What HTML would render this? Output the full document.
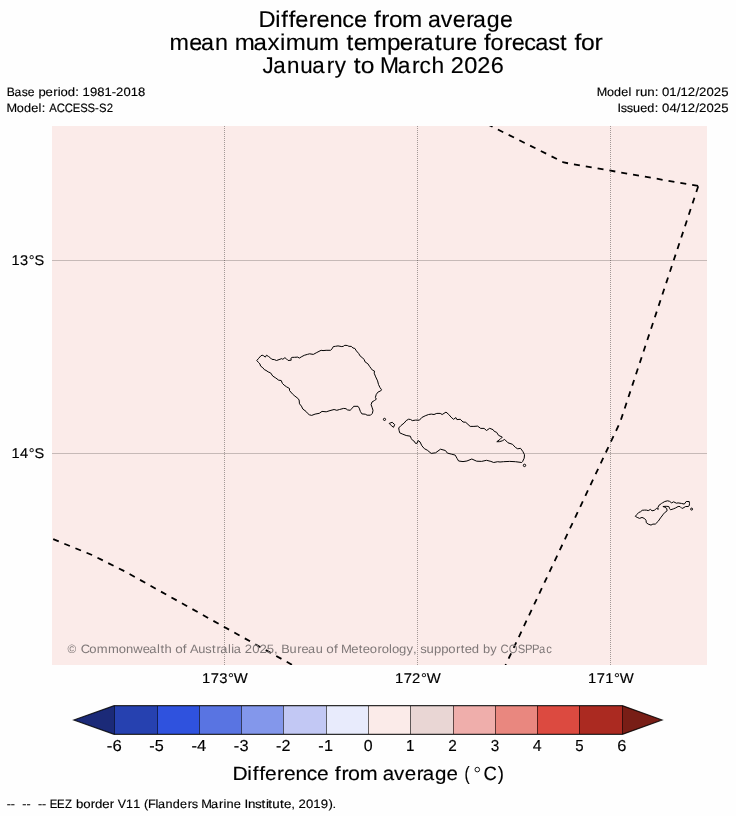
<!DOCTYPE html>
<html><head><meta charset="utf-8">
<style>
html,body{margin:0;padding:0;background:#fefefe;width:736px;height:816px;overflow:hidden}
svg{display:block;will-change:transform}
text{font-family:"Liberation Sans",sans-serif;fill:#000;stroke:#000;stroke-width:0.15px;text-rendering:geometricPrecision}
text.g{fill:#7f7878;stroke:none}
</style></head>
<body>
<svg width="736" height="816" viewBox="0 0 736 816">
<rect x="0" y="0" width="736" height="816" fill="#fefefe"/>
<!-- map -->
<rect x="52" y="126" width="655" height="539" fill="#fbebe9"/>
<g shape-rendering="crispEdges">
<line x1="52" y1="260.5" x2="707" y2="260.5" stroke="#000" stroke-opacity="0.21" stroke-width="1"/>
<line x1="52" y1="453.5" x2="707" y2="453.5" stroke="#000" stroke-opacity="0.21" stroke-width="1"/>
<line x1="224.5" y1="126" x2="224.5" y2="665" stroke="#000" stroke-opacity="0.35" stroke-width="1" stroke-dasharray="1 1"/>
<line x1="417.5" y1="126" x2="417.5" y2="665" stroke="#000" stroke-opacity="0.35" stroke-width="1" stroke-dasharray="1 1"/>
<line x1="610.5" y1="126" x2="610.5" y2="665" stroke="#000" stroke-opacity="0.35" stroke-width="1" stroke-dasharray="1 1"/>
</g>
<!-- islands -->
<g fill="none" stroke="#000" stroke-width="1" stroke-linejoin="round">
<path id="savaii" d="M256.8,360.5 L258.7,358.3 260.9,355.8 262.1,355.2 263.7,355.8 265.3,357.1 266.5,355.2 268.4,356.4 270.6,358 271.8,359.3 274.3,359.6 276.5,360.5 279,359.6 281.8,358.6 282.8,359.3 284.9,357.7 286.5,358.9 288.1,360.5 291.2,360.2 290.9,358.3 292.1,357.4 294.6,357.3 297.8,357.1 299.3,358.1 301.8,356.6 304.3,355.3 307.4,354.4 309.6,353.8 313.3,354.4 316.8,352.5 321.1,350.3 323,350.6 326.1,350.3 330.5,350.3 332.1,348.8 333.3,346.6 335.5,346.3 338,345.9 341.8,346.6 343.3,346.3 344.8,345.3 347.3,345.5 348.9,346.3 351.4,346.4 352.9,348 354.8,348.4 356.4,350.9 358.6,353.4 360.4,356.3 362.6,357.8 364.2,359.7 365.1,361.9 367.9,363.8 369.5,366.3 371.4,368.8 372.4,370.1 374.5,371.1 374.2,373.2 375.7,376.9 377.6,380.9 378.5,384.5 380,387.6 381.5,389.7 380.6,391 378.2,391.9 376.3,394.3 375.4,397.4 376.3,399.2 374.5,400.5 372,402 371.1,404.7 372,407.2 373,410.3 372.4,413.3 370.5,415.2 367.1,415.2 365.3,414.2 361.9,413.9 360.4,411.5 359.2,408.1 358,406.3 353.7,406.3 351.8,408.7 350.1,410.3 347.5,409.9 346,408.7 343.7,408.4 339.5,409.5 336.8,410.3 334.1,409.5 330,410.6 326.2,411.8 322,411.4 319.3,413.3 315.1,414.1 311.7,415.4 309.4,414.8 307.5,413.3 306,411.4 302.9,409.1 301.4,406.1 299.5,403.8 299.1,400 297.8,398.3 294.9,396.1 292.4,393.9 289.5,390.5 289.5,388.5 286.5,386.8 284.1,385.1 282.4,383.4 281.2,380.5 278.7,380.2 275.8,378 272.8,376.1 270.6,372.9 268.2,371.9 266,370.4 264.3,369.6 262.8,367.7 260.6,366.1 259.9,363.9 258.4,362.4 Z"/>
<path id="upolu" d="M398.7,428 L400.8,425.7 404.2,423 406.2,420.6 408.6,419.2 410.6,419.5 412.3,420.6 415.7,420.1 419.4,420.2 421.8,417.5 425.2,415.8 428.6,414.5 431.3,414.1 434,414.5 436.8,413.4 440.2,413.4 442.2,414.5 446,412.1 448.8,414.5 451.1,417.2 453.5,419.3 455.9,417.6 456.9,419.6 460.3,419.3 463,422 465.7,422.3 470.2,426.4 473.9,426.4 477.6,426.1 480.7,428.4 484.1,428.4 486.5,430.5 489.7,428.3 493.1,429.7 494.3,431.4 496.6,432.3 498.6,435.4 502.3,437.1 500,439.4 496.8,441.7 499.4,441.7 502.3,440.8 504.6,439.4 508,442.8 512.5,444.3 515.4,447.4 517.7,448.8 520.5,448.3 522.8,451.4 524.5,454.8 524.2,458.2 522.5,461.7 521.7,462.5 515.4,461.7 509.7,461.4 503.4,461.7 500,462 497.7,461.7 493.7,462.5 490.9,461.4 486.5,460.3 481.6,461.4 476.7,461.2 471.8,459 466.9,461 463,461.6 458.6,461 457.1,458.5 455.2,455.1 451.3,454.1 447.4,453.1 445.4,450.5 440.5,449.2 435.6,452.8 431.2,453.4 427.3,450.2 424.4,448.7 421.9,445.8 420,441.9 418.1,440.6 417.1,443.3 415.4,443.3 414.3,441.3 412.6,440.3 411.3,438.6 410.3,436.2 406.2,435.5 402.8,434.2 399.7,432.8 399.1,430.4 Z"/>
<path id="tutuila" d="M635.3,516.3 L636.8,514.6 638.7,512.5 640.6,511.7 642.2,510.3 644.4,510.1 646.3,510.1 648.2,510.6 650.5,509.4 652,510.8 654.3,510.3 655.8,509.1 656.7,508.4 658.2,509.4 657.9,507.5 659.1,505.1 660,504.6 661.5,503.4 662.4,502.9 664.8,501.5 667.6,500.8 669.5,501.3 671.7,502.9 673.6,501.8 676.4,503.2 678.1,502.9 681.4,503.4 684.3,504.1 686.2,501.5 689.2,501.5 689.5,503.7 689.2,505.8 688.1,506.5 685.7,506.5 682.8,508.2 681.9,508.4 680,506.5 678.1,506.5 675.7,507.9 673.3,508.9 670.5,509.8 669.5,508.4 668.8,506.5 666.2,506.3 662.9,506.5 664.8,507.2 666.7,508.4 667.1,510.8 665.2,512.2 663.4,514.1 662,516 660.5,517.9 658.2,521.3 655.3,524.1 652.9,524.1 651,525.1 648.2,524.1 646.3,522.7 646,520.3 644.6,518.6 642,517.4 639.6,518.4 637.2,517.4 Z"/>
<circle cx="384.5" cy="419.4" r="1.1"/>
<path d="M389.2,423.4 L392.2,422.3 394.7,424.6 393.5,427.3 391.4,425.7 Z"/>
<circle cx="524.5" cy="465.4" r="1.2"/>
<circle cx="691.6" cy="509.1" r="1"/>
</g>
<!-- EEZ -->
<clipPath id="mapclip"><rect x="52" y="126" width="655" height="539"/></clipPath>
<g fill="none" stroke="#000" stroke-width="1.8" clip-path="url(#mapclip)">
<path d="M479.5,120.3 L491.5,126.3 563.8,162.5 698.3,186.0" stroke-dasharray="6 6" stroke-dashoffset="3.43"/>
<path d="M698.3,186.0 L620.2,422 500.2,676.5" stroke-dasharray="6 6" stroke-dashoffset="-0.3"/>
<path d="M52,538.7 L92,555 125,571.5 292.4,665" stroke-dasharray="6 6" stroke-dashoffset="-1.3"/>
</g>
<!-- colorbar -->
<g id="cbar" stroke="none">
<polygon points="73.8,719.95 114.6,705.5 114.6,734.4" fill="#1b2a78"/>
<rect x="114" y="706" width="44" height="28" fill="#2641b0" shape-rendering="crispEdges"/>
<rect x="157" y="706" width="43" height="28" fill="#2f52de" shape-rendering="crispEdges"/>
<rect x="199" y="706" width="43" height="28" fill="#5974e2" shape-rendering="crispEdges"/>
<rect x="241" y="706" width="43" height="28" fill="#8397eb" shape-rendering="crispEdges"/>
<rect x="283" y="706" width="44" height="28" fill="#c2c8f4" shape-rendering="crispEdges"/>
<rect x="326" y="706" width="43" height="28" fill="#e8ebfc" shape-rendering="crispEdges"/>
<rect x="368" y="706" width="43" height="28" fill="#fbebe9" shape-rendering="crispEdges"/>
<rect x="410" y="706" width="44" height="28" fill="#e9d6d4" shape-rendering="crispEdges"/>
<rect x="453" y="706" width="43" height="28" fill="#efaeab" shape-rendering="crispEdges"/>
<rect x="495" y="706" width="43" height="28" fill="#e9877f" shape-rendering="crispEdges"/>
<rect x="537" y="706" width="43" height="28" fill="#dc4a40" shape-rendering="crispEdges"/>
<rect x="579" y="706" width="44" height="28" fill="#ab2a21" shape-rendering="crispEdges"/>
<polygon points="622.4,705.5 662.1,719.95 622.4,734.4" fill="#781e16"/>
</g>
<g stroke="#000" stroke-opacity="0.82" stroke-width="1" fill="none">
<polygon points="73.8,719.95 114.2,705.6 622.28,705.6 662.1,719.95 622.28,734.4 114.2,734.4" stroke-width="1.15"/>
</g>
<g stroke="#000" stroke-opacity="0.6" stroke-width="1" shape-rendering="crispEdges">
<line x1="114.5" y1="705.5" x2="114.5" y2="734.4"/>
<line x1="157.5" y1="705.5" x2="157.5" y2="734.4"/>
<line x1="199.5" y1="705.5" x2="199.5" y2="734.4"/>
<line x1="241.5" y1="705.5" x2="241.5" y2="734.4"/>
<line x1="283.5" y1="705.5" x2="283.5" y2="734.4"/>
<line x1="326.5" y1="705.5" x2="326.5" y2="734.4"/>
<line x1="368.5" y1="705.5" x2="368.5" y2="734.4"/>
<line x1="410.5" y1="705.5" x2="410.5" y2="734.4"/>
<line x1="453.5" y1="705.5" x2="453.5" y2="734.4"/>
<line x1="495.5" y1="705.5" x2="495.5" y2="734.4"/>
<line x1="537.5" y1="705.5" x2="537.5" y2="734.4"/>
<line x1="579.5" y1="705.5" x2="579.5" y2="734.4"/>
<line x1="622.5" y1="705.5" x2="622.5" y2="734.4"/>
</g>
<!-- axis labels -->

<circle cx="477.3" cy="769.6" r="2.3" fill="none" stroke="#000" stroke-width="0.9"/>
<text class="t" transform="matrix(1.0342,0,0,1,258.98,0)" x="-0.52 15.73 21.65 28.72 35.05 48.21 55.66 68.20 80.44 91.79" y="27" font-size="22.85">Difference</text>
<text class="t" transform="matrix(1.0612,0,0,1,258.98,0)" x="108.35 115.27 122.42 134.82" y="27" font-size="22.85">from</text>
<text class="t" transform="matrix(1.0119,0,0,1,258.98,0)" x="166.97 179.66 191.44 204.85 211.64 225.14 238.12" y="27" font-size="22.85">average</text>
<text class="t" transform="matrix(1.0203,0,0,1,169.04,0)" x="0.45 19.78 31.44 44.97" y="50" font-size="22.85">mean</text>
<text class="t" transform="matrix(1.0523,0,0,1,169.04,0)" x="62.40 80.38 93.66 105.47 110.89 129.83 142.63" y="50" font-size="22.85">maximum</text>
<text class="t" transform="matrix(1.0618,0,0,1,169.04,0)" x="167.07 173.85 186.24 205.19 217.36 230.22 236.58 250.32 257.19 270.32 277.53" y="50" font-size="22.85">temperature</text>
<text class="t" transform="matrix(1.0289,0,0,1,169.04,0)" x="306.17 312.48 325.70 333.20 345.31 355.86 368.54 380.08" y="50" font-size="22.85">forecast</text>
<text class="t" transform="matrix(1.0818,0,0,1,169.04,0)" x="374.87 380.72 393.39" y="50" font-size="22.85">for</text>
<text class="t" transform="matrix(0.9792,0,0,1,267.83,0)" x="-5.55 5.59 19.67 33.02 45.48 60.09 68.42" y="73" font-size="22.85">January</text>
<text class="t" transform="matrix(1.0794,0,0,1,267.83,0)" x="79.61 86.15" y="73" font-size="22.85">to</text>
<text class="t" transform="matrix(0.9975,0,0,1,267.83,0)" x="112.55 130.27 144.66 152.12 164.07" y="73" font-size="22.85">March</text>
<text class="t" transform="matrix(1.0279,0,0,1,267.83,0)" x="178.01 191.13 203.72 216.84" y="73" font-size="22.85">2026</text>
<text class="m" transform="matrix(1.0025,0,0,1,6.87,0)" x="-0.11 7.61 14.77 20.90" y="95.6" font-size="12.10">Base</text>
<text class="m" transform="matrix(1.0880,0,0,1,6.87,0)" x="29.02 35.60 42.54 46.69 49.37 55.92 62.80" y="95.6" font-size="12.10">period:</text>
<text class="m" transform="matrix(1.0770,0,0,1,6.87,0)" x="70.31 77.15 83.99 90.72 97.48 101.32 108.26 115.00 121.87" y="95.6" font-size="12.10">1981-2018</text>
<text class="m" transform="matrix(1.0522,0,0,1,6.87,0)" x="-0.31 9.43 16.20 23.12 30.01 33.04" y="111.6" font-size="12.10">Model:</text>
<text class="m" transform="matrix(0.9337,0,0,1,6.87,0)" x="45.31 53.44 62.05 70.63 78.54 86.37 94.47 98.66 106.93" y="111.6" font-size="12.10">ACCESS-S2</text>
<text class="m" transform="matrix(1.0396,0,0,1,596.98,0)" x="-0.26 9.59 16.43 23.44 30.38" y="95.6" font-size="12.10">Model</text>
<text class="m" transform="matrix(1.1000,0,0,1,596.98,0)" x="35.08 39.01 45.69 52.44" y="95.6" font-size="12.10">run:</text>
<text class="m" transform="matrix(1.0852,0,0,1,596.98,0)" x="60.03 66.71 73.63 77.04 83.73 90.72 94.06 100.95 107.57 114.42" y="95.6" font-size="12.10">01/12/2025</text>
<text class="m" transform="matrix(1.0471,0,0,1,617.46,0)" x="-0.05 3.17 8.90 14.81 21.73 28.52 35.61" y="111.6" font-size="12.10">Issued:</text>
<text class="m" transform="matrix(1.0852,0,0,1,617.46,0)" x="41.16 47.91 54.76 58.17 64.85 71.85 75.19 82.08 88.69 95.55" y="111.6" font-size="12.10">04/12/2025</text>
<text class="a" transform="matrix(1.0378,0,0,1,11.29,0)" x="0.12 8.42 16.85 22.36" y="264.7" font-size="14.07">13°S</text>
<text class="a" transform="matrix(1.0378,0,0,1,11.29,0)" x="0.12 8.41 16.85 22.36" y="457.7" font-size="14.07">14°S</text>
<text class="a" transform="matrix(1.0513,0,0,1,202.03,0)" x="0.07 8.23 16.38 24.71 30.14" y="683" font-size="14.07">173°W</text>
<text class="a" transform="matrix(1.0513,0,0,1,395.03,0)" x="0.07 8.23 16.19 24.71 30.14" y="683" font-size="14.07">172°W</text>
<text class="a" transform="matrix(1.0513,0,0,1,588.03,0)" x="0.07 8.23 16.28 24.71 30.14" y="683" font-size="14.07">171°W</text>
<text class="c" transform="matrix(1.0528,0,0,1,106.87,0)" x="-0.05 5.33" y="751" font-size="15.86">-6</text>
<text class="c" transform="matrix(1.0213,0,0,1,149.15,0)" x="0.03 5.57" y="751" font-size="15.86">-5</text>
<text class="c" transform="matrix(1.0419,0,0,1,191.43,0)" x="-0.02 5.43" y="751" font-size="15.86">-4</text>
<text class="c" transform="matrix(1.0325,0,0,1,233.71,0)" x="0.00 5.54" y="751" font-size="15.86">-3</text>
<text class="c" transform="matrix(1.0168,0,0,1,275.99,0)" x="0.04 5.48" y="751" font-size="15.86">-2</text>
<text class="c" transform="matrix(1.0242,0,0,1,318.27,0)" x="0.02 5.52" y="751" font-size="15.86">-1</text>
<text class="c" transform="matrix(1.0039,0,0,1,363.28,0)" x="0.37" y="751" font-size="15.86">0</text>
<text class="c" transform="matrix(0.9589,0,0,1,405.56,0)" x="0.52" y="751" font-size="15.86">1</text>
<text class="c" transform="matrix(0.9677,0,0,1,447.84,0)" x="0.34" y="751" font-size="15.86">2</text>
<text class="c" transform="matrix(0.9642,0,0,1,490.12,0)" x="0.59" y="751" font-size="15.86">3</text>
<text class="c" transform="matrix(1.0041,0,0,1,532.4,0)" x="0.37" y="751" font-size="15.86">4</text>
<text class="c" transform="matrix(0.9475,0,0,1,574.68,0)" x="0.59" y="751" font-size="15.86">5</text>
<text class="c" transform="matrix(1.0391,0,0,1,616.96,0)" x="0.21" y="751" font-size="15.86">6</text>
<text class="c" transform="matrix(1.0835,0,0,1,232.89,0)" x="-0.43 13.32 18.33 24.31 29.67 40.81 47.12 57.74 68.10 77.71" y="779.8" font-size="19.34">Difference</text>
<text class="c" transform="matrix(1.1118,0,0,1,232.89,0)" x="91.72 97.59 103.64 114.14" y="779.8" font-size="19.34">from</text>
<text class="c" transform="matrix(1.0601,0,0,1,232.89,0)" x="141.35 152.09 162.07 173.42 179.17 190.59 201.58" y="779.8" font-size="19.34">average</text>
<text class="c" transform="matrix(0.8051,0,0,1,232.89,0)" x="287.56" y="779.8" font-size="19.34">(</text>
<text class="c" transform="matrix(0.9563,0,0,1,483.84,0)" x="-0.37 14.47" y="779.8" font-size="19.34">C)</text>
<text class="g" transform="matrix(0.9761,0,0,1,66.21,0)" x="1.45" y="653" font-size="12.10">©</text>
<text class="g" transform="matrix(1.0752,0,0,1,66.21,0)" x="13.43 21.52 28.36 38.80 48.95 55.64 62.38 71.09 77.23 84.44 87.66 91.51" y="653" font-size="12.10">Commonwealth</text>
<text class="g" transform="matrix(1.1136,0,0,1,66.21,0)" x="97.97 104.76" y="653" font-size="12.10">of</text>
<text class="g" transform="matrix(1.0592,0,0,1,66.21,0)" x="116.83 124.65 131.37 137.57 141.83 145.43 152.72 155.74 158.14" y="653" font-size="12.10">Australia</text>
<text class="g" transform="matrix(1.0853,0,0,1,66.21,0)" x="164.53 171.42 178.04 184.89 191.57" y="653" font-size="12.10">2025,</text>
<text class="g" transform="matrix(1.0538,0,0,1,66.21,0)" x="204.03 211.92 219.20 223.29 229.55 236.77" y="653" font-size="12.10">Bureau</text>
<text class="g" transform="matrix(1.1136,0,0,1,66.21,0)" x="233.64 240.43" y="653" font-size="12.10">of</text>
<text class="g" transform="matrix(1.0796,0,0,1,66.21,0)" x="254.43 264.00 271.01 274.75 281.28 288.27 292.19 298.96 301.69 308.28 315.22 321.31" y="653" font-size="12.10">Meteorology,</text>
<text class="g" transform="matrix(1.0811,0,0,1,66.21,0)" x="327.56 333.27 340.11 346.87 353.46 360.44 364.84 368.58 375.16" y="653" font-size="12.10">supported</text>
<text class="g" transform="matrix(1.0642,0,0,1,66.21,0)" x="391.61 398.53" y="653" font-size="12.10">by</text>
<text class="g" transform="matrix(0.9291,0,0,1,66.21,0)" x="467.44 476.38 485.92 493.75 501.23 508.77 516.62" y="653" font-size="12.10">COSPPac</text>
<text class="b" transform="matrix(1.0297,0,0,1,6.64,0)" x="0.00 4.04" y="807.8" font-size="12.10">--</text>
<text class="b" transform="matrix(1.0297,0,0,1,6.64,0)" x="15.19 19.22" y="807.8" font-size="12.10">--</text>
<text class="b" transform="matrix(1.0297,0,0,1,6.64,0)" x="30.37 34.41" y="807.8" font-size="12.10">--</text>
<text class="b" transform="matrix(0.9389,0,0,1,6.64,0)" x="45.88 53.63 62.07" y="807.8" font-size="12.10">EEZ</text>
<text class="b" transform="matrix(1.0942,0,0,1,6.64,0)" x="63.42 69.93 76.84 80.76 87.42 94.33" y="807.8" font-size="12.10">border</text>
<text class="b" transform="matrix(1.0243,0,0,1,6.64,0)" x="108.42 116.45 123.61" y="807.8" font-size="12.10">V11</text>
<text class="b" transform="matrix(1.0474,0,0,1,6.64,0)" x="131.06 134.96 142.04 144.49 151.79 158.69 165.64 172.81 176.81" y="807.8" font-size="12.10">(Flanders</text>
<text class="b" transform="matrix(1.0603,0,0,1,6.64,0)" x="183.50 192.77 200.29 204.52 207.47 214.26" y="807.8" font-size="12.10">Marine</text>
<text class="b" transform="matrix(1.1074,0,0,1,6.64,0)" x="214.71 217.88 224.28 230.26 234.12 236.28 239.94 246.95 250.56 256.97" y="807.8" font-size="12.10">Institute,</text>
<text class="b" transform="matrix(1.0860,0,0,1,6.64,0)" x="268.77 275.66 282.34 289.13 296.27 300.04" y="807.8" font-size="12.10">2019).</text>
</svg>
</body></html>
